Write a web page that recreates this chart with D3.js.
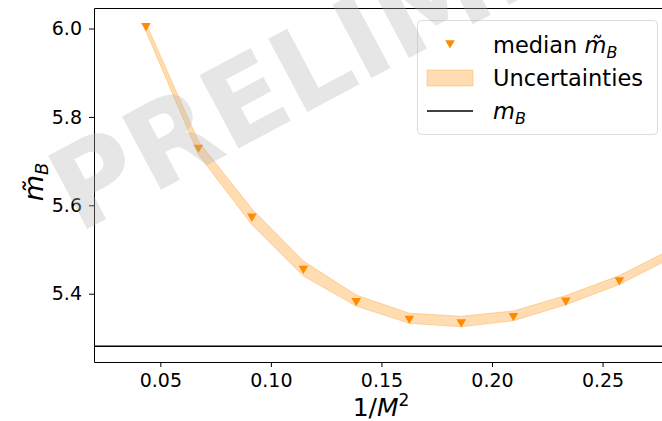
<!DOCTYPE html>
<html>
<head>
<meta charset="utf-8">
<script src="https://cdn.jsdelivr.net/npm/d3@7"></script>
<style>
  body { margin: 0; background: #fff; }
  text { font-family: "DejaVu Sans", sans-serif; }
</style>
</head>
<body>
<script>
// values
let invM2 = [0.0435, 0.0672, 0.0914, 0.1147, 0.1386, 0.1626, 0.1861, 0.2097, 0.2334, 0.2576, 0.2812]
let medians = [6.006, 5.731, 5.575, 5.457, 5.384, 5.344, 5.336, 5.350, 5.385, 5.431, 5.491]
let lower = [5.994, 5.715, 5.556, 5.440, 5.372, 5.333, 5.325, 5.339, 5.375, 5.421, 5.481]
let upper = [6.012, 5.745, 5.592, 5.474, 5.397, 5.356, 5.349, 5.361, 5.396, 5.441, 5.501]
let mB = 5.281
let xTicks = [0.05, 0.10, 0.15, 0.20, 0.25]
let yTicks = [5.4, 5.6, 5.8, 6.0]

// measurements for the plot
let m = {
  width: 662,
  height: 421,
  left: 94,
  top: 8,
  bottom: 362,
  right: 691,
}

let orange = '#ff8c00'

let svg = d3.select('body')
  .append('svg')
  .attr('width', m.width)
  .attr('height', m.height)

let xScale = d3.scaleLinear()
  .domain([0.02, 0.29])
  .range([m.left, m.right])

let yScale = d3.scaleLinear()
  .domain([5.2455, 6.0464])
  .range([m.bottom, m.top])

svg.append('clipPath')
  .attr('id', 'clip')
  .append('rect')
  .attr('x', m.left)
  .attr('y', m.top)
  .attr('width', m.right - m.left)
  .attr('height', m.bottom - m.top)

let plot = svg.append('g').attr('clip-path', 'url(#clip)')

// uncertainty band
let pts = invM2.map(function(d, i) { return { x: d, lo: lower[i], hi: upper[i], med: medians[i] } })

let band = d3.area()
  .x(function(d) { return xScale(d.x) })
  .y0(function(d) { return yScale(d.lo) })
  .y1(function(d) { return yScale(d.hi) })

plot.append('path')
  .datum(pts)
  .attr('d', band)
  .attr('fill', orange)
  .attr('fill-opacity', 0.3)
  .attr('stroke', orange)
  .attr('stroke-opacity', 0.3)
  .attr('stroke-width', 1)

// m_B reference line
plot.append('line')
  .attr('x1', m.left)
  .attr('x2', m.right)
  .attr('y1', yScale(mB))
  .attr('y2', yScale(mB))
  .attr('stroke', '#000')
  .attr('stroke-width', 1.5)

// median markers (downward triangles)
let tri = d3.symbol().type(d3.symbolTriangle).size(40)

plot.selectAll('.med')
  .data(pts)
  .enter()
  .append('path')
    .attr('class', 'med')
    .attr('d', tri)
    .attr('transform', function(d) { return 'translate(' + xScale(d.x) + ',' + yScale(d.med) + ') rotate(180)' })
    .attr('fill', orange)

// axes
let xAxis = d3.axisBottom(xScale)
  .tickValues(xTicks)
  .tickFormat(d3.format('.2f'))
  .tickSize(5)
  .tickPadding(6.5)

let yAxis = d3.axisLeft(yScale)
  .tickValues(yTicks)
  .tickFormat(d3.format('.1f'))
  .tickSize(5)
  .tickPadding(7)

let gx = svg.append('g')
  .attr('transform', 'translate(0,' + m.bottom + ')')
  .call(xAxis)

let gy = svg.append('g')
  .attr('transform', 'translate(' + m.left + ',0)')
  .call(yAxis)

gx.select('.domain').remove()
gy.select('.domain').remove()
svg.selectAll('.tick text')
  .attr('font-size', 19)
  .attr('font-family', 'DejaVu Sans')
  .attr('fill', '#000')
svg.selectAll('.tick line').attr('stroke', '#000')

// spines
svg.append('path')
  .attr('d', 'M' + m.right + ',' + (m.top + 0.5) + 'H' + (m.left + 0.5) + 'V' + (m.bottom + 0.5) + 'H' + m.right)
  .attr('fill', 'none')
  .attr('stroke', '#000')
  .attr('stroke-width', 1)

// axis labels
let xl = svg.append('text')
  .attr('x', 381)
  .attr('y', 416)
  .attr('text-anchor', 'middle')
  .attr('font-size', 25)
xl.append('tspan').text('1/')
xl.append('tspan').attr('font-style', 'italic').text('M')
xl.append('tspan').attr('font-size', 17).attr('dy', -10).text('2')

let yl = svg.append('text')
  .attr('transform', 'translate(43,182) rotate(-90)')
  .attr('text-anchor', 'middle')
  .attr('font-size', 27)
yl.append('tspan').attr('font-style', 'italic').text('m\u0303')
yl.append('tspan').attr('font-style', 'italic').attr('font-size', 18).attr('dy', 5).text('B')

// legend
let lg = svg.append('g')

lg.append('rect')
  .attr('x', 417.5)
  .attr('y', 20.5)
  .attr('width', 240)
  .attr('height', 114)
  .attr('rx', 4)
  .attr('fill', '#fff')
  .attr('fill-opacity', 0.8)
  .attr('stroke', '#dcdcdc')

lg.append('path')
  .attr('d', tri)
  .attr('transform', 'translate(450,43) rotate(180)')
  .attr('fill', orange)

lg.append('rect')
  .attr('x', 427)
  .attr('y', 70)
  .attr('width', 46)
  .attr('height', 16)
  .attr('fill', orange)
  .attr('fill-opacity', 0.3)
  .attr('stroke', orange)
  .attr('stroke-opacity', 0.3)

lg.append('line')
  .attr('x1', 427)
  .attr('x2', 473)
  .attr('y1', 111)
  .attr('y2', 111)
  .attr('stroke', '#000')
  .attr('stroke-width', 1.5)

let t1 = lg.append('text').attr('x', 493).attr('y', 53).attr('font-size', 22.5)
t1.append('tspan').text('median ')
t1.append('tspan').attr('font-style', 'italic').text('m\u0303')
t1.append('tspan').attr('font-style', 'italic').attr('font-size', 16).attr('dy', 5).text('B')

lg.append('text').attr('x', 493).attr('y', 86).attr('font-size', 22.5).text('Uncertainties')

let t3 = lg.append('text').attr('x', 493).attr('y', 119).attr('font-size', 22.5)
t3.append('tspan').attr('font-style', 'italic').text('m')
t3.append('tspan').attr('font-style', 'italic').attr('font-size', 16).attr('dy', 5).text('B')

// watermark
svg.append('text')
  .attr('transform', 'translate(78,234) rotate(-28)')
  .attr('font-size', 114)
  .attr('font-weight', 'bold')
  .attr('fill', '#b4b4b4')
  .attr('fill-opacity', 0.33)
  .text('PRELIMINARY')
</script>
</body>
</html>
